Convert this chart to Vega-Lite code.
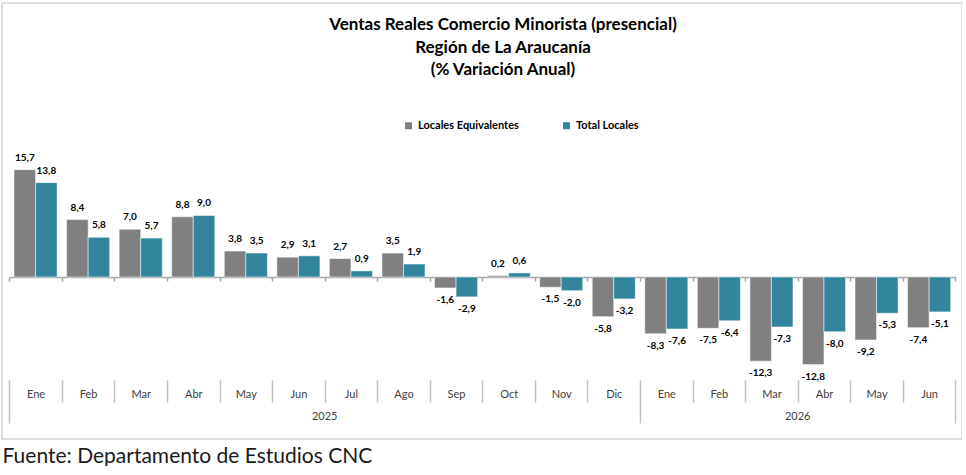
{
  "$schema": "https://vega.github.io/schema/vega-lite/v6.json",
  "width": 960,
  "height": 436,
  "padding": {"left": 2, "top": 3, "right": 0, "bottom": 0},
  "autosize": {"type": "pad"},
  "background": "white",
  "title": {
    "text": ["Ventas Reales Comercio Minorista (presencial)", "Región de La Araucanía", "(% Variación Anual)"],
    "font": "Lato",
    "fontSize": 17,
    "fontWeight": "bold",
    "color": "#000000",
    "anchor": "middle",
    "frame": "group",
    "lineHeight": 22.5,
    "offset": -76,
    "dx": 21
  },
  "data": {
    "values": [
      {"periodo": "2025-Ene", "serie": "Locales Equivalentes", "valor": 15.7},
      {"periodo": "2025-Feb", "serie": "Locales Equivalentes", "valor": 8.4},
      {"periodo": "2025-Mar", "serie": "Locales Equivalentes", "valor": 7.0},
      {"periodo": "2025-Abr", "serie": "Locales Equivalentes", "valor": 8.8},
      {"periodo": "2025-May", "serie": "Locales Equivalentes", "valor": 3.8},
      {"periodo": "2025-Jun", "serie": "Locales Equivalentes", "valor": 2.9},
      {"periodo": "2025-Jul", "serie": "Locales Equivalentes", "valor": 2.7},
      {"periodo": "2025-Ago", "serie": "Locales Equivalentes", "valor": 3.5},
      {"periodo": "2025-Sep", "serie": "Locales Equivalentes", "valor": -1.6},
      {"periodo": "2025-Oct", "serie": "Locales Equivalentes", "valor": 0.2},
      {"periodo": "2025-Nov", "serie": "Locales Equivalentes", "valor": -1.5},
      {"periodo": "2025-Dic", "serie": "Locales Equivalentes", "valor": -5.8},
      {"periodo": "2026-Ene", "serie": "Locales Equivalentes", "valor": -8.3},
      {"periodo": "2026-Feb", "serie": "Locales Equivalentes", "valor": -7.5},
      {"periodo": "2026-Mar", "serie": "Locales Equivalentes", "valor": -12.3},
      {"periodo": "2026-Abr", "serie": "Locales Equivalentes", "valor": -12.8},
      {"periodo": "2026-May", "serie": "Locales Equivalentes", "valor": -9.2},
      {"periodo": "2026-Jun", "serie": "Locales Equivalentes", "valor": -7.4},
      {"periodo": "2025-Ene", "serie": "Total Locales", "valor": 13.8},
      {"periodo": "2025-Feb", "serie": "Total Locales", "valor": 5.8},
      {"periodo": "2025-Mar", "serie": "Total Locales", "valor": 5.7},
      {"periodo": "2025-Abr", "serie": "Total Locales", "valor": 9.0},
      {"periodo": "2025-May", "serie": "Total Locales", "valor": 3.5},
      {"periodo": "2025-Jun", "serie": "Total Locales", "valor": 3.1},
      {"periodo": "2025-Jul", "serie": "Total Locales", "valor": 0.9},
      {"periodo": "2025-Ago", "serie": "Total Locales", "valor": 1.9},
      {"periodo": "2025-Sep", "serie": "Total Locales", "valor": -2.9},
      {"periodo": "2025-Oct", "serie": "Total Locales", "valor": 0.6},
      {"periodo": "2025-Nov", "serie": "Total Locales", "valor": -2.0},
      {"periodo": "2025-Dic", "serie": "Total Locales", "valor": -3.2},
      {"periodo": "2026-Ene", "serie": "Total Locales", "valor": -7.6},
      {"periodo": "2026-Feb", "serie": "Total Locales", "valor": -6.4},
      {"periodo": "2026-Mar", "serie": "Total Locales", "valor": -7.3},
      {"periodo": "2026-Abr", "serie": "Total Locales", "valor": -8.0},
      {"periodo": "2026-May", "serie": "Total Locales", "valor": -5.3},
      {"periodo": "2026-Jun", "serie": "Total Locales", "valor": -5.1}
    ]
  },
  "encoding": {
    "xOffset": {
      "field": "serie",
      "type": "nominal",
      "scale": {"domain": ["Locales Equivalentes", "Total Locales"], "paddingInner": 0, "paddingOuter": 0.22}
    },
    "y": {
      "field": "valor",
      "type": "quantitative",
      "scale": {"domain": [-23.68, 40.06], "nice": false, "zero": false},
      "axis": null
    }
  },
  "layer": [
    {
      "mark": {"type": "bar", "stroke": "white", "strokeOpacity": 0.5, "strokeWidth": 1},
      "encoding": {
        "x": {
          "field": "periodo",
          "type": "nominal",
          "scale": {
            "domain": ["2025-Ene", "2025-Feb", "2025-Mar", "2025-Abr", "2025-May", "2025-Jun", "2025-Jul", "2025-Ago", "2025-Sep", "2025-Oct", "2025-Nov", "2025-Dic", "2026-Ene", "2026-Feb", "2026-Mar", "2026-Abr", "2026-May", "2026-Jun"],
            "range": [7.3, 953.4],
            "paddingInner": 0,
            "paddingOuter": 0
          },
          "axis": {
            "orient": "bottom",
            "offset": -59,
            "title": null,
            "domain": false,
            "grid": false,
            "tickBand": "extent",
            "tickColor": "#c0c0c0",
            "tickWidth": 1.5,
            "tickSize": {"condition": {"test": "datum.extra || datum.value === '2025-Dic' || datum.value === '2026-Jun'", "value": 43}, "value": 22},
            "labelPadding": {"condition": {"test": "datum.value === '2025-Dic' || datum.value === '2026-Jun'", "value": -29}, "value": -8},
            "labelBaseline": "middle",
            "labelExpr": "split(datum.value, '-')[1]",
            "labelFont": "Lato",
            "labelFontSize": 11,
            "labelColor": "#404040",
            "labelAngle": 0
          }
        },
        "y2": {"datum": 0},
        "color": {
          "field": "serie",
          "type": "nominal",
          "scale": {"domain": ["Locales Equivalentes", "Total Locales"], "range": ["#808080", "#31859C"]},
          "legend": {
            "title": null,
            "orient": "none",
            "legendX": 401,
            "legendY": 117,
            "direction": "horizontal",
            "symbolType": "square",
            "symbolSize": 49,
            "symbolStrokeWidth": 0,
            "labelFont": "Lato",
            "labelFontSize": 11,
            "labelFontWeight": "bold",
            "labelColor": "#000000",
            "labelOffset": 4,
            "columnPadding": 42,
            "padding": 0
          }
        }
      }
    },
    {
      "transform": [{"filter": "datum.valor >= 0"}],
      "mark": {"type": "text", "baseline": "middle", "dy": -12, "font": "Lato", "fontSize": 10, "fontWeight": "bold", "color": "#000000"},
      "encoding": {
        "x": {
          "field": "periodo",
          "type": "nominal",
          "axis": {
            "orient": "bottom",
            "offset": -59,
            "title": null,
            "domain": false,
            "grid": false,
            "ticks": false,
            "values": ["2025-Jul", "2026-Abr"],
            "labelOffset": -26.28,
            "labelPadding": 36,
            "labelBaseline": "middle",
            "labelExpr": "split(datum.value, '-')[0]",
            "labelFont": "Lato",
            "labelFontSize": 11,
            "labelColor": "#404040",
            "labelAngle": 0
          }
        },
        "text": {"field": "valor", "type": "quantitative", "format": ".1f"}
      }
    },
    {
      "transform": [{"filter": "datum.valor < 0"}],
      "mark": {"type": "text", "baseline": "middle", "dy": 12, "font": "Lato", "fontSize": 10, "fontWeight": "bold", "color": "#000000"},
      "encoding": {
        "x": {
          "field": "periodo",
          "type": "nominal",
          "axis": {
            "orient": "bottom",
            "offset": -162,
            "domain": true,
            "domainColor": "#a6a6a6",
            "domainWidth": 1.5,
            "grid": false,
            "labels": false,
            "tickBand": "extent",
            "tickColor": "#a6a6a6",
            "tickWidth": 1.5,
            "tickSize": 4,
            "title": "Fuente: Departamento de Estudios CNC",
            "titleFont": "Lato",
            "titleFontSize": 21,
            "titleFontWeight": "normal",
            "titleColor": "#1a1a1a",
            "titleAnchor": "start",
            "titleAlign": "left",
            "titleBaseline": "alphabetic",
            "titleX": 0,
            "titleY": 185
          }
        },
        "text": {"field": "valor", "type": "quantitative", "format": ".1f"}
      }
    }
  ],
  "resolve": {"axis": {"x": "independent"}},
  "config": {
    "view": {"stroke": "#d4d4d4", "strokeWidth": 1.5},
    "locale": {
      "number": {"decimal": ",", "thousands": ".", "grouping": [3], "currency": ["$", ""], "minus": "-"}
    }
  }
}
